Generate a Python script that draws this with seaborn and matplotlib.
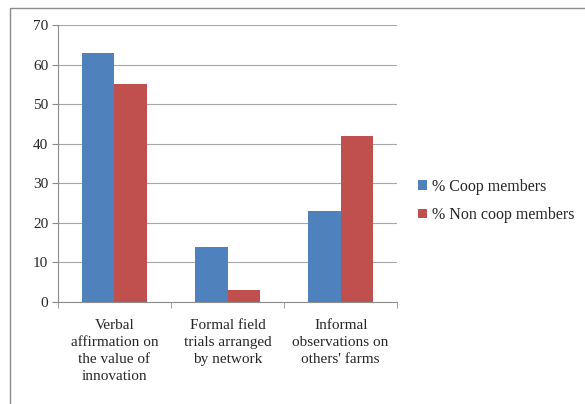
import pandas as pd
import seaborn as sns
import matplotlib.pyplot as plt
from matplotlib.patches import Rectangle
from matplotlib.ticker import FixedLocator

# 数据
categories = [
    "Verbal\naffirmation on\nthe value of\ninnovation",
    "Formal field\ntrials arranged\nby network",
    "Informal\nobservations on\nothers' farms",
]
series_names = ["% Coop members", "% Non coop members"]
coop_values = [63, 14, 23]
non_coop_values = [55, 3, 42]
y_ticks = [0, 10, 20, 30, 40, 50, 60, 70]

df = pd.DataFrame({
    "category": categories * 2,
    "group": [series_names[0]] * 3 + [series_names[1]] * 3,
    "value": coop_values + non_coop_values,
})

sns.set_style("white")
plt.rcParams["font.family"] = ["Liberation Serif", "DejaVu Serif"]

fig = plt.figure(figsize=(5.85, 4.04), dpi=100)
ax = fig.add_axes([0.099, 0.2525, 0.58, 0.6855])

sns.barplot(data=df, x="category", y="value", hue="group",
            palette=["#4F81BD", "#C0504D"], width=0.57, saturation=1,
            ax=ax, edgecolor="none")

ax.set_ylim(0, 70)
ax.set_yticks(y_ticks)
ax.yaxis.grid(True, color="#a6a6a6", linewidth=0.8)
ax.set_axisbelow(True)
ax.set_xlabel("")
ax.set_ylabel("")
ax.set_xlim(-0.5, 2.5)

for side in ["top", "right"]:
    ax.spines[side].set_visible(False)
for side in ["left", "bottom"]:
    ax.spines[side].set_color("#8c8c8c")
    ax.spines[side].set_linewidth(0.8)

ax.tick_params(axis="y", which="major", length=4, color="#8c8c8c",
               labelsize=11, pad=3, left=True)
ax.tick_params(axis="x", which="major", length=0, labelsize=11, pad=12)
for lbl in ax.get_xticklabels():
    lbl.set_linespacing(1.4)
ax.xaxis.set_minor_locator(FixedLocator([-0.5, 0.5, 1.5, 2.5]))
ax.tick_params(axis="x", which="minor", length=4, color="#8c8c8c", bottom=True)

leg = ax.legend(loc="center left", bbox_to_anchor=(1.02, 0.365), frameon=False,
                fontsize=11.5, handlelength=0.55, handleheight=0.55,
                handletextpad=0.3, labelspacing=0.8)

# 外框
fig.patches.append(Rectangle((0.017, -0.01), 1.0, 0.99, transform=fig.transFigure,
                             fill=False, edgecolor="#8c8c8c", linewidth=1.0))

fig.savefig("out.png", dpi=100)
